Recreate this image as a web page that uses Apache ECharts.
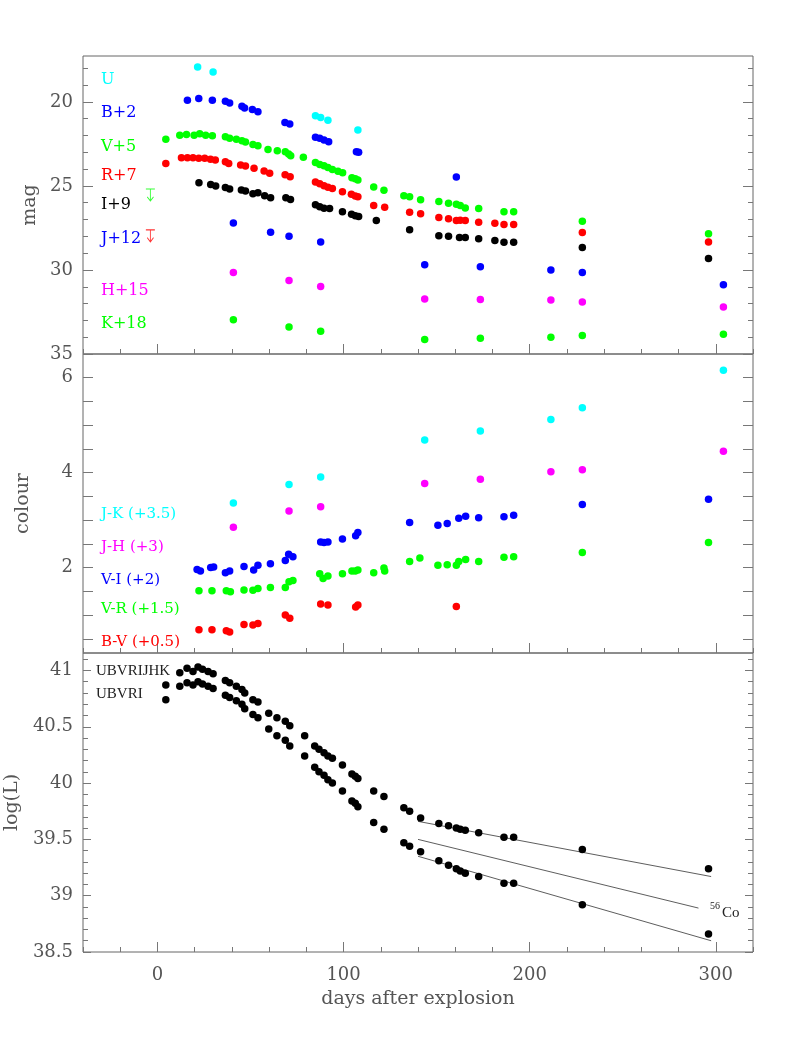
<!DOCTYPE html>
<html><head><meta charset="utf-8">
<script src="https://cdn.jsdelivr.net/npm/echarts@6/dist/echarts.min.js"></script>
<style>html,body{margin:0;padding:0;background:#fff}#c{width:795px;height:1059px}</style>
</head><body><div id="c"></div>
<script>
// ---- tick values ----
const xMajorTicks = [0, 100, 200, 300];
const magMajorTicks = [20, 25, 30, 35];
const magMinorTicks = [18,19,20,21,22,23,24,25,26,27,28,29,30,31,32,33,34,35];
const colourTicks = [0.5,1,1.5,2,2.5,3,3.5,4,4.5,5,5.5,6];
const colourLabels = [2, 4, 6];
const lumMajorTicks = [38.5, 39, 39.5, 40, 40.5, 41];
const lumMinorTicks = [38.6,38.7,38.8,38.9,39.0,39.1,39.2,39.3,39.4,39.5,39.6,39.7,39.8,39.9,40.0,40.1,40.2,40.3,40.4,40.5,40.6,40.7,40.8,40.9,41.0,41.1];

// ---- top panel: magnitudes (day, mag) ----
const magU = [[21.6,17.92],[29.9,18.22],[84.9,20.83],[87.7,20.93],[91.6,21.09],[107.7,21.68]];
const magB = [[16.1,19.9],[22.2,19.8],[29.5,19.9],[36.5,19.96],[38.8,20.06],[45.4,20.26],[46.8,20.37],[51.0,20.45],[54.0,20.59],[68.5,21.22],[71.1,21.32],[84.9,22.11],[87.2,22.17],[89.5,22.27],[92.0,22.37],[106.9,22.97],[108.1,23.0],[160.6,24.47]];
const magV = [[4.5,22.23],[12.0,21.98],[15.6,21.94],[19.7,21.98],[22.7,21.9],[25.9,21.98],[29.5,22.02],[36.5,22.08],[38.8,22.17],[42.4,22.23],[45.4,22.31],[47.3,22.39],[51.3,22.53],[54.0,22.61],[59.4,22.83],[64.4,22.91],[68.7,22.97],[70.5,23.1],[71.6,23.2],[78.4,23.29],[84.9,23.61],[87.2,23.73],[89.5,23.8],[91.6,23.9],[94.0,24.02],[97.0,24.13],[99.5,24.22],[104.5,24.51],[106.3,24.57],[107.7,24.65],[116.2,25.06],[121.7,25.26],[132.4,25.58],[135.5,25.64],[141.4,25.82],[151.2,25.93],[156.4,26.03],[160.6,26.09],[162.7,26.17],[165.4,26.31],[172.6,26.35],[186.2,26.53],[191.4,26.53],[228.3,27.1],[296.1,27.85]];
const magR = [[4.5,23.66],[12.9,23.32],[16.1,23.32],[19.1,23.32],[22.2,23.36],[25.4,23.36],[28.5,23.42],[31.1,23.46],[36.5,23.56],[38.3,23.66],[44.7,23.76],[47.3,23.82],[51.9,23.95],[57.3,24.11],[60.3,24.25],[68.6,24.33],[71.3,24.45],[84.9,24.77],[87.2,24.87],[89.5,24.99],[91.6,25.08],[94.0,25.16],[99.4,25.35],[104.2,25.49],[106.3,25.6],[107.7,25.64],[116.2,26.17],[122.1,26.27],[135.5,26.56],[141.4,26.65],[151.2,26.88],[156.4,26.96],[160.6,27.06],[162.7,27.04],[165.4,27.06],[172.6,27.16],[181.3,27.22],[186.2,27.3],[191.4,27.3],[228.3,27.77],[296.1,28.33]];
const magI = [[22.3,24.81],[28.6,24.91],[31.3,25.0],[36.5,25.1],[38.8,25.18],[45.1,25.24],[47.3,25.3],[51.3,25.46],[54.0,25.4],[57.6,25.58],[60.8,25.7],[69.0,25.7],[71.5,25.81],[84.9,26.12],[87.2,26.24],[89.5,26.33],[92.5,26.35],[99.4,26.54],[104.3,26.68],[106.3,26.78],[108.1,26.82],[117.6,27.06],[135.5,27.61],[151.2,27.97],[156.4,27.99],[162.3,28.07],[165.4,28.07],[172.6,28.15],[181.3,28.25],[186.2,28.35],[191.4,28.35],[228.3,28.66],[296.1,29.32]];
const magJ = [[40.8,27.2],[60.8,27.75],[70.7,28.0],[87.7,28.33],[143.6,29.69],[173.5,29.81],[211.4,30.0],[228.3,30.15],[304.1,30.88]];
const magH = [[40.8,30.15],[70.7,30.62],[87.7,30.98],[143.6,31.73],[173.5,31.75],[211.4,31.79],[228.3,31.9],[304.1,32.2]];
const magK = [[40.8,32.96],[70.7,33.39],[87.7,33.65],[143.6,34.14],[173.5,34.06],[211.4,34.0],[228.3,33.9],[304.1,33.83]];
const limitV = [[-3.8,25.54]];
const limitR = [[-3.8,27.97]];

// ---- middle panel: colours ----
const colJK = [[40.8,3.36],[70.7,3.75],[87.7,3.91],[143.6,4.69],[173.5,4.88],[211.4,5.12],[228.3,5.37],[304.1,6.16]];
const colJH = [[40.8,2.85],[70.7,3.19],[87.7,3.28],[143.6,3.77],[173.5,3.86],[211.4,4.02],[228.3,4.06],[304.1,4.45]];
const colVI = [[21.3,1.96],[23.1,1.93],[28.6,2.0],[30.2,2.01],[36.5,1.89],[38.8,1.93],[46.5,2.02],[51.7,1.95],[54.0,2.05],[60.7,2.08],[68.7,2.15],[70.5,2.28],[72.8,2.23],[87.7,2.54],[89.5,2.53],[91.6,2.54],[99.4,2.6],[106.5,2.67],[107.7,2.74],[135.5,2.95],[150.7,2.89],[155.7,2.93],[161.9,3.04],[165.6,3.08],[172.6,3.05],[186.2,3.07],[191.4,3.1],[228.3,3.33],[296.1,3.44]];
const colVR = [[22.3,1.51],[29.3,1.51],[37.0,1.51],[39.2,1.49],[46.5,1.53],[51.3,1.52],[54.0,1.56],[60.7,1.58],[68.7,1.58],[70.7,1.7],[72.8,1.73],[87.2,1.87],[89.0,1.77],[91.6,1.82],[99.4,1.87],[104.5,1.93],[106.3,1.93],[107.7,1.95],[116.2,1.89],[121.7,1.99],[122.1,1.93],[135.5,2.13],[141.0,2.2],[150.7,2.05],[155.7,2.06],[160.6,2.05],[161.9,2.13],[165.6,2.17],[172.6,2.13],[186.2,2.22],[191.4,2.23],[228.3,2.32],[296.1,2.53]];
const colBV = [[22.3,0.69],[29.3,0.69],[37.0,0.67],[38.8,0.64],[46.5,0.8],[51.3,0.79],[54.0,0.82],[68.7,1.0],[71.1,0.93],[87.7,1.23],[91.6,1.21],[106.5,1.17],[107.7,1.21],[160.6,1.18]];

// ---- bottom panel: log luminosity ----
const lumAll = [[4.5,40.87],[12.0,40.98],[15.9,41.02],[19.1,40.99],[21.8,41.03],[24.2,41.01],[27.2,40.99],[29.9,40.97],[36.5,40.91],[38.8,40.89],[42.4,40.86],[45.4,40.83],[46.9,40.8],[51.3,40.74],[54.0,40.72],[59.8,40.62],[64.2,40.58],[68.7,40.55],[71.1,40.51],[79.1,40.42],[84.5,40.33],[86.8,40.3],[89.5,40.27],[91.6,40.24],[94.0,40.22],[99.4,40.16],[104.5,40.08],[106.3,40.06],[107.7,40.04],[116.2,39.93],[121.7,39.88],[132.4,39.78],[135.5,39.75],[141.4,39.69],[151.2,39.64],[156.4,39.62],[160.6,39.6],[162.7,39.59],[165.4,39.58],[172.6,39.56],[186.2,39.52],[191.4,39.52],[228.3,39.41],[296.1,39.24]];
const lumOpt = [[4.5,40.74],[12.0,40.86],[15.9,40.89],[19.1,40.87],[21.8,40.9],[24.2,40.88],[27.2,40.86],[29.9,40.84],[36.5,40.78],[38.8,40.76],[42.4,40.73],[45.4,40.7],[46.9,40.66],[51.3,40.61],[54.0,40.58],[59.8,40.48],[64.2,40.42],[68.7,40.38],[71.1,40.33],[79.1,40.24],[84.5,40.14],[86.8,40.1],[89.5,40.07],[91.6,40.03],[94.0,40.0],[99.4,39.93],[104.5,39.84],[106.3,39.82],[107.7,39.79],[116.2,39.65],[121.7,39.59],[132.4,39.47],[135.5,39.44],[141.4,39.39],[151.2,39.31],[156.4,39.27],[160.6,39.24],[162.7,39.22],[165.4,39.2],[172.6,39.17],[186.2,39.11],[191.4,39.11],[228.3,38.92],[296.1,38.66]];
const fitAll = [[140,39.66],[297.5,39.17]];
const fitCo = [[140,39.5],[290.7,38.89]];
const fitOpt = [[140,39.35],[297.5,38.6]];

const FONT = 'DejaVu Serif';
const TICKC = '#777';
const LABC = '#555';
const grids = [
  {left: 83, right: 42, top: 56, height: 298},
  {left: 83, right: 42, top: 354, height: 299},
  {left: 83, right: 42, top: 653, height: 299}
].map(g => Object.assign(g, {show: true, borderColor: '#666', borderWidth: 1, backgroundColor: 'transparent',
  containLabel: false, outerBoundsMode: 'none'}));

const xAxes = [], yAxes = [];
function addX(gi) {
  const last = gi === 2;
  xAxes.push({gridIndex: gi, type: 'value', min: -40, max: 320, position: 'bottom',
    axisLine: {show: false, onZero: false}, splitLine: {show: false},
    axisTick: {show: true, inside: true, length: 10, customValues: xMajorTicks, lineStyle: {color: TICKC}},
    axisLabel: {show: last, customValues: xMajorTicks, fontFamily: FONT, fontSize: 18, color: LABC, margin: 14},
    name: last ? 'days after explosion' : '', nameLocation: 'middle', nameGap: 38,
    nameTextStyle: {fontFamily: FONT, fontSize: 19, color: LABC}});
  xAxes.push({gridIndex: gi, type: 'value', min: -40, max: 320, interval: 20, position: 'bottom',
    axisLine: {show: false, onZero: false}, splitLine: {show: false},
    axisTick: {show: true, inside: true, length: 5, lineStyle: {color: TICKC}},
    axisLabel: {show: false}});
}
function addY(gi, cfg) {
  ['left', 'right'].forEach(pos => {
    yAxes.push({gridIndex: gi, type: 'value', min: cfg.min, max: cfg.max, inverse: !!cfg.inverse, position: pos,
      axisLine: {show: false, onZero: false}, splitLine: {show: false},
      axisTick: {show: true, inside: true, length: cfg.majLen, customValues: cfg.major, lineStyle: {color: TICKC}},
      axisLabel: {show: pos === 'left', customValues: cfg.labels, fontFamily: FONT, fontSize: 18, color: LABC, margin: 10},
      name: pos === 'left' ? cfg.name : '', nameLocation: 'middle', nameRotate: 90, nameGap: cfg.nameGap,
      nameTextStyle: {fontFamily: FONT, fontSize: 19, color: LABC}});
    yAxes.push({gridIndex: gi, type: 'value', min: cfg.min, max: cfg.max, inverse: !!cfg.inverse, position: pos,
      axisLine: {show: false, onZero: false}, splitLine: {show: false},
      axisTick: {show: cfg.minor.length > 0, inside: true, length: 5, customValues: cfg.minor, lineStyle: {color: TICKC}},
      axisLabel: {show: false}});
  });
}
addX(0); addX(1); addX(2);
addY(0, {min: 17.27, max: 35, inverse: true, major: magMajorTicks, labels: magMajorTicks, minor: magMinorTicks, majLen: 10, name: 'mag', nameGap: 40});
addY(1, {min: 0.2, max: 6.5, major: colourTicks, labels: colourLabels, minor: [], majLen: 10, name: 'colour', nameGap: 50});
addY(2, {min: 38.5, max: 41.155, major: lumMajorTicks, labels: lumMajorTicks, minor: lumMinorTicks, majLen: 8, name: 'log(L)', nameGap: 59});

function sc(gi, data, color, size) {
  return {type: 'scatter', xAxisIndex: gi * 2, yAxisIndex: gi * 4, data: data, symbolSize: size || 7.5,
    itemStyle: {color: color, opacity: 1}, silent: true, z: 3};
}
function ln(gi, data) {
  return {type: 'line', xAxisIndex: gi * 2, yAxisIndex: gi * 4, data: data, showSymbol: false, symbol: 'none',
    lineStyle: {color: '#333', width: 0.8}, silent: true, z: 2};
}
const arrowPath = 'path://M0,0 L10,0 M5,0 L5,13 M1.5,8.5 L5,13 L8.5,8.5';
function lim(data, color) {
  return {type: 'scatter', xAxisIndex: 0, yAxisIndex: 0, data: data, symbol: arrowPath, symbolSize: [9, 12],
    itemStyle: {color: 'transparent', borderColor: color, borderWidth: 1}, silent: true};
}

const series = [
  sc(0, magU, '#00ffff'), sc(0, magB, '#0000ff'), sc(0, magV, '#00ff00'), sc(0, magR, '#ff0000'),
  sc(0, magI, '#000000'), sc(0, magJ, '#0000ff'), sc(0, magH, '#ff00ff'), sc(0, magK, '#00ff00'),
  lim(limitV, '#00ff00'), lim(limitR, '#ff0000'),
  sc(1, colJK, '#00ffff'), sc(1, colJH, '#ff00ff'), sc(1, colVI, '#0000ff'), sc(1, colVR, '#00ff00'), sc(1, colBV, '#ff0000'),
  sc(2, lumAll, '#000000'), sc(2, lumOpt, '#000000'),
  ln(2, fitAll), ln(2, fitCo), ln(2, fitOpt)
];

function txt(x, y, s, color, size, family) {
  return {type: 'text', left: x, top: y, z: 10, silent: true,
    style: {text: s, fill: color, font: (size || 16) + 'px "' + (family || FONT) + '"', textVerticalAlign: 'middle'}};
}
const graphics = [
  txt(101, 72, 'U', '#00ffff'), txt(101, 105, 'B+2', '#0000ff'), txt(101, 139, 'V+5', '#00ff00'),
  txt(101, 168, 'R+7', '#ff0000'), txt(101, 197, 'I+9', '#000000'), txt(101, 231, 'J+12', '#0000ff'),
  txt(101, 283, 'H+15', '#ff00ff'), txt(101, 316, 'K+18', '#00ff00'),
  txt(101, 507, 'J-K (+3.5)', '#00ffff', 15), txt(101, 540, 'J-H (+3)', '#ff00ff', 15),
  txt(101, 573, 'V-I (+2)', '#0000ff', 15), txt(101, 602, 'V-R (+1.5)', '#00ff00', 15),
  txt(101, 635, 'B-V (+0.5)', '#ff0000', 15),
  txt(96, 664, 'UBVRIJHK', '#222', 15, 'Liberation Serif'), txt(96, 687, 'UBVRI', '#222', 15, 'Liberation Serif'),
  txt(710, 901, '56', '#222', 10, 'Liberation Serif'), txt(722, 906, 'Co', '#222', 15, 'Liberation Serif')
];

const chart = echarts.init(document.getElementById('c'), null, {renderer: 'canvas'});
chart.setOption({animation: false, backgroundColor: '#fff', grid: grids, xAxis: xAxes, yAxis: yAxes, series: series, graphic: graphics});
</script></body></html>
